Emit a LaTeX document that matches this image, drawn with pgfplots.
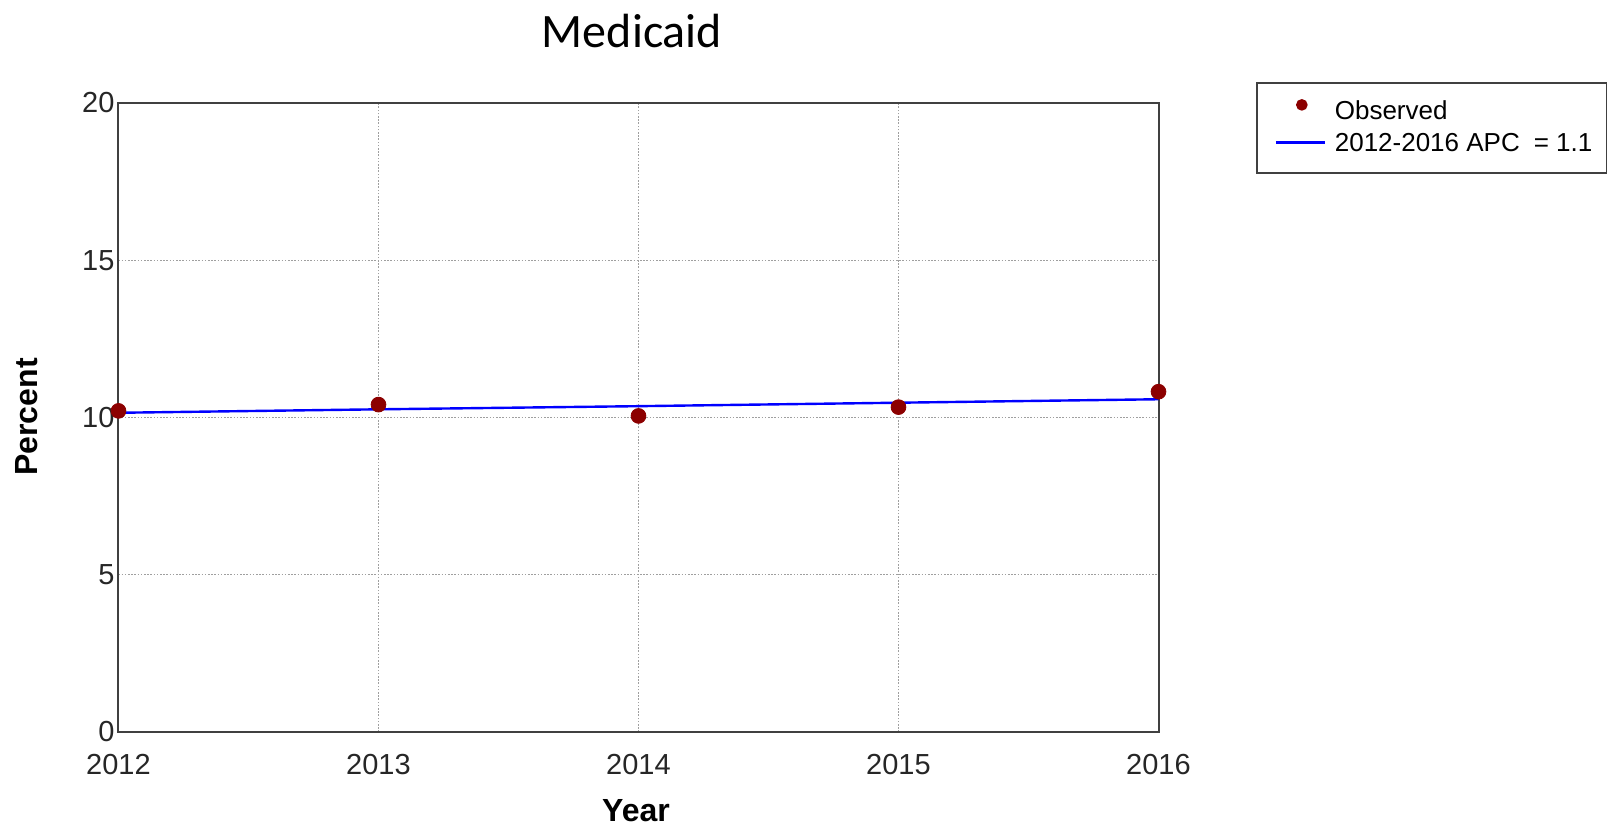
\documentclass[border=0pt]{standalone}
\usepackage{pgfplots}
\pgfplotsset{compat=1.18}
\usepackage{fontspec}
\setmainfont{Liberation Sans}
\newfontfamily\calibri{Carlito}
\definecolor{obsred}{RGB}{140,0,0}
\definecolor{axgray}{RGB}{64,64,64}
\begin{document}
\begin{tikzpicture}
\useasboundingbox (-59.25pt,-48pt) rectangle (746.75pt,366pt);
\begin{axis}[
  at={(0pt,0pt)}, anchor=south west,
  scale only axis,
  width=520pt, height=314.5pt,
  xmin=2012, xmax=2016, ymin=0, ymax=20,
  xtick={2012,2013,2014,2015,2016},
  ytick={0,5,10,15,20},
  xticklabels={2012,2013,2014,2015,2016},
  major tick length=0pt,
  axis line style={draw=axgray, line width=1pt},
  grid=major,
  major grid style={draw=gray!75, dash pattern=on 0.8pt off 0.8pt, line width=0.7pt},
  /pgf/number format/assume math mode=true,
  ticklabel style={font=\fontsize{14.5}{16}\selectfont, text=black!85},
  xticklabel style={yshift=-7.5pt},
  yticklabel style={xshift=1.5pt},
  xlabel={\textbf{Year}},
  ylabel={\textbf{Percent}},
  xlabel style={font=\fontsize{16}{18}\selectfont, inner sep=1pt, at={(axis description cs:0.4976,-0.125)}, anchor=center},
  ylabel style={font=\fontsize{16}{18}\selectfont, at={(axis description cs:-0.088,0.5008)}, anchor=center},
  legend style={at={(1.0938,1.0334)}, anchor=north west, draw=axgray, line width=0.8pt,
    font=\fontsize{13}{15}\selectfont, inner xsep=5pt, inner ysep=7pt, row sep=1.5pt},
  legend cell align=left,
  clip=false,
]
\addplot[only marks, mark=*, mark size=3.7pt, color=obsred,
  legend image code/.code={\path[draw=none,fill=none] (0pt,0pt) rectangle (32pt,0.1pt); \fill[obsred] (17.5pt,0.12cm) circle (2.5pt);}]
  coordinates {(2012,10.21) (2013,10.41) (2014,10.05) (2015,10.33) (2016,10.82)};
\addlegendentry{Observed}
\addplot[color=blue, line width=1.2pt, mark=none,
  legend image code/.code={\path[draw=none,fill=none] (0pt,0pt) rectangle (32pt,0.1pt); \draw[blue, line width=1.6pt] (4.5pt,0.03cm) -- (29pt,0.03cm);}]
  coordinates {(2012,10.15) (2013,10.26) (2014,10.36) (2015,10.47) (2016,10.58)};
\addlegendentry{2012-2016 APC\hspace{7pt}= 1.1\hspace{14pt}}
\node[font=\calibri\fontsize{24}{28}\selectfont, anchor=center] at (rel axis cs:0.4938,1.1145) {Medicaid};
\end{axis}
\end{tikzpicture}
\end{document}
